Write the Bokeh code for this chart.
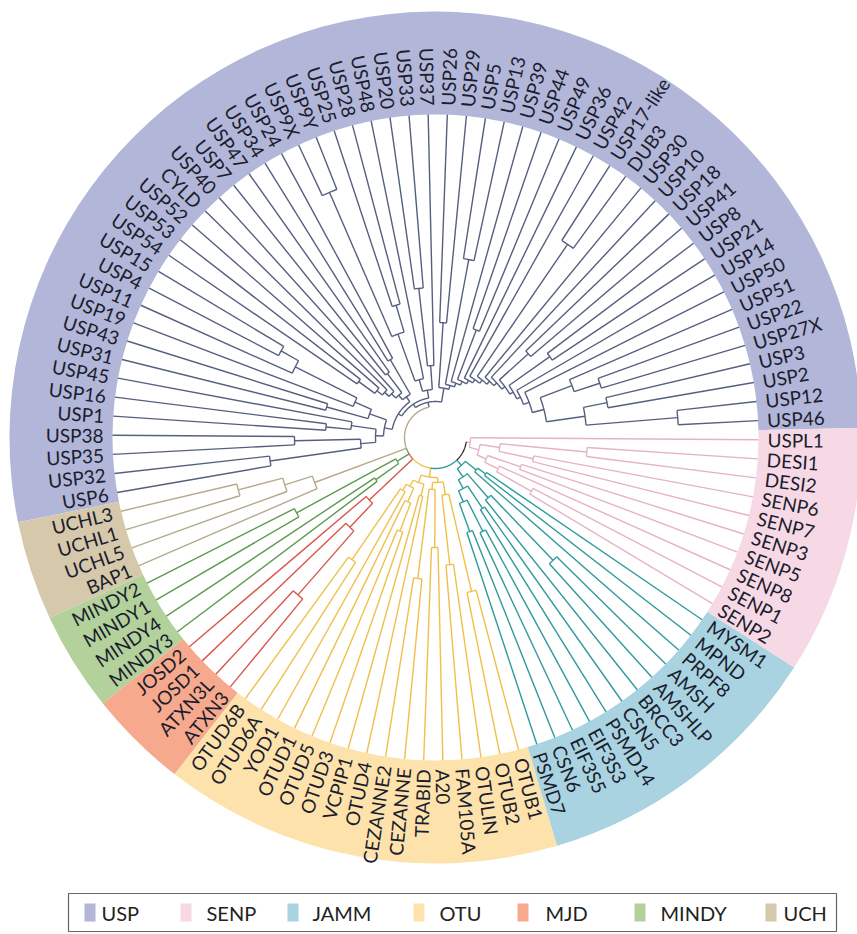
import math
from bokeh.plotting import figure
from bokeh.models import Range1d
from bokeh.embed import file_html
from bokeh.resources import INLINE
from bokeh.core.properties import value

# ---------------- data ----------------
usp_leaves = ["USP46", "USP12", "USP2", "USP3", "USP27X", "USP22", "USP51", "USP50", "USP14",
              "USP21", "USP8", "USP41", "USP18", "USP10", "USP30", "DUB3", "USP17-like", "USP42",
              "USP36", "USP49", "USP44", "USP39", "USP13", "USP5", "USP29", "USP26", "USP37",
              "USP33", "USP20", "USP48", "USP28", "USP25", "USP9Y", "USP9X", "USP24", "USP34",
              "USP47", "USP7", "USP40", "CYLD", "USP52", "USP53", "USP54", "USP15", "USP4",
              "USP11", "USP19", "USP43", "USP31", "USP45", "USP16", "USP1", "USP38", "USP35",
              "USP32", "USP6"]
uch_leaves = ["UCHL3", "UCHL1", "UCHL5", "BAP1"]
mindy_leaves = ["MINDY2", "MINDY1", "MINDY4", "MINDY3"]
mjd_leaves = ["JOSD2", "JOSD1", "ATXN3L", "ATXN3"]
otu_leaves = ["OTUD6B", "OTUD6A", "YOD1", "OTUD1", "OTUD5", "OTUD3", "VCPIP1", "OTUD4",
              "CEZANNE2", "CEZANNE", "TRABID", "A20", "FAM105A", "OTULIN", "OTUB2", "OTUB1"]
jamm_leaves = ["PSMD7", "CSN6", "EIF3S5", "EIF3S3", "PSMD14", "CSN5", "BRCC3", "AMSHLP",
               "AMSH", "PRPF8", "MPND", "MYSM1"]
senp_leaves = ["SENP2", "SENP1", "SENP8", "SENP5", "SENP3", "SENP7", "SENP6", "DESI2",
               "DESI1", "USPL1"]

families = ["USP", "UCH", "MINDY", "MJD", "OTU", "JAMM", "SENP"]
family_leaves = [usp_leaves, uch_leaves, mindy_leaves, mjd_leaves, otu_leaves, jamm_leaves, senp_leaves]
legend_order = ["USP", "SENP", "JAMM", "OTU", "MJD", "MINDY", "UCH"]

band_colors = {"USP": "#b2b6d8", "SENP": "#f6d9e4", "JAMM": "#a9d3e0", "OTU": "#fde3ab",
               "MJD": "#f6a98c", "MINDY": "#b3d19b", "UCH": "#d6c9ab"}
line_colors = {"USP": "#55607f", "SENP": "#e6b3c6", "JAMM": "#2f9a9c", "OTU": "#f0c04c",
               "MJD": "#d9574a", "MINDY": "#5c9a4d", "UCH": "#b6aa8e"}


# tree: [node_depth, child, child, ...]; leaves are names
def N(depth, *children):
    return [depth] + list(children)


def comb(base, steps):
    t = base
    for d, sub in steps:
        t = N(d, t, sub)
    return t


usp_right = comb(N(112, N(151, N(243, "USP46", "USP12"), N(175, "USP2", "USP3")),
                   N(146, N(173, "USP27X", "USP22"), "USP51")),
                 [(100, "USP50"), (94, "USP14"), (90, N(140, "USP21", "USP8")),
                  (86, N(125, "USP41", "USP18")), (82, "USP10"), (78, "USP30"),
                  (74, N(234, "DUB3", "USP17-like")), (70, "USP42"), (66, "USP36"),
                  (62, N(115, "USP49", "USP44")), (58, "USP39"), (54, N(181, "USP13", "USP5")),
                  (50, N(115, "USP29", "USP26"))])
usp_g1 = N(48, N(72, "USP37", N(150, "USP33", "USP20")),
           N(60, "USP48", N(110, N(138, "USP28", "USP25"), N(267, "USP9Y", "USP9X"))))
usp_g2 = N(50, N(90, "USP24", "USP34"),
           N(56, N(80, "USP47", "USP7"),
             N(62, "USP40", N(68, "CYLD", N(75, "USP52", N(95, "USP53", "USP54"))))))
usp_g3 = N(52, N(70, N(88, N(157, N(177, "USP15", "USP4"), "USP11"), "USP19"),
                 N(113, "USP43", "USP31")),
           N(60, N(85, "USP45", N(110, "USP16", "USP1")),
             N(75, N(141, "USP38", "USP35"), N(167, "USP32", "USP6"))))
usp_tree = N(36, usp_right, N(40, usp_g1, N(44, usp_g2, usp_g3)))
uch_tree = N(129, N(158, N(204, "UCHL3", "UCHL1"), "UCHL5"), "BAP1")
mindy_tree = N(45, N(158, "MINDY2", "MINDY1"), N(73, "MINDY4", "MINDY3"))
mjd_tree = N(91, "JOSD2", N(124, "JOSD1", N(209, "ATXN3L", "ATXN3")))
otu_tree = N(40,
             N(48, N(55, N(62, N(148, "OTUD6B", "OTUD6A"), "YOD1"),
                     N(70, "OTUD1", N(100, "OTUD5", "OTUD3"))),
               N(60, "VCPIP1", "OTUD4")),
             N(45, N(52, N(142, "CEZANNE2", "CEZANNE"), N(110, "TRABID", "A20")),
               N(58, N(128, "FAM105A", "OTULIN"), N(158, "OTUB2", "OTUB1"))))
jamm_tree = N(38,
              N(48, N(58, N(70, N(100, "PSMD7", "CSN6"), N(105, "EIF3S5", "EIF3S3")),
                      N(85, "PSMD14", "CSN5")),
                N(80, "BRCC3", N(170, "AMSHLP", "AMSH"))),
              N(52, "PRPF8", N(62, "MPND", "MYSM1")))
senp_tree = N(35,
              N(45, N(55, N(70, N(110, "SENP2", "SENP1"), "SENP8"), N(90, "SENP5", "SENP3")),
                N(65, N(100, "SENP7", "SENP6"), N(152, "DESI2", "DESI1"))),
              "USPL1")
root_depth = 31
family_trees = [usp_tree, uch_tree, mindy_tree, mjd_tree, otu_tree, jamm_tree, senp_tree]

# ---------------- layout ----------------
W, H = 857, 934
CX, CY = 435, H - 437
R_TIP = 323
R_LABEL = 332
R_OUT = 426
THETA0 = 3.0

leaves = [lf for fl in family_leaves for lf in fl]
n_leaves = len(leaves)
step = 360.0 / n_leaves
leaf_angle = {lf: THETA0 + i * step for i, lf in enumerate(leaves)}

p = figure(width=W, height=H, x_range=Range1d(0, W), y_range=Range1d(0, H),
           output_backend="svg", toolbar_location=None, x_axis_type=None, y_axis_type=None,
           min_border=0, outline_line_color=None, background_fill_color="white")
p.grid.visible = False

# colored bands
starts, ends, cols = [], [], []
for fam, fl in zip(families, family_leaves):
    a0 = leaf_angle[fl[0]] - step / 2
    a1 = leaf_angle[fl[-1]] + step / 2
    starts.append(math.radians(a0))
    ends.append(math.radians(a1))
    cols.append(band_colors[fam])
p.annular_wedge(x=[CX] * 7, y=[CY] * 7, inner_radius=R_TIP, outer_radius=R_OUT,
                start_angle=starts, end_angle=ends, fill_color=cols, line_color=None)

xs, ys, lc = [], [], []


def pol(r, a):
    t = math.radians(a)
    return CX + r * math.cos(t), CY + r * math.sin(t)


def add_radial(r0, r1, a, color):
    x0, y0 = pol(r0, a)
    x1, y1 = pol(r1, a)
    xs.append([x0, x1])
    ys.append([y0, y1])
    lc.append(color)


def add_arc(r, a0, a1, color):
    n = max(2, int(abs(a1 - a0) / 0.5) + 2)
    px, py = [], []
    for i in range(n):
        x, y = pol(r, a0 + (a1 - a0) * i / (n - 1))
        px.append(x)
        py.append(y)
    xs.append(px)
    ys.append(py)
    lc.append(color)


def layout(node, color):
    if isinstance(node, str):
        return leaf_angle[node], R_TIP
    r = node[0]
    kids = [layout(c, color) for c in node[1:]]
    angs = [k[0] for k in kids]
    for a, rr in kids:
        add_radial(r, rr, a, color)
    add_arc(r, min(angs), max(angs), color)
    return (min(angs) + max(angs)) / 2, r


root_kids = []
for fam, tree in zip(families, family_trees):
    a, r = layout(tree, line_colors[fam])
    add_radial(root_depth, r, a, line_colors[fam])
    root_kids.append((a, fam))
root_kids.sort()
for (a0, f0), (a1, f1) in zip(root_kids[:-1], root_kids[1:]):
    add_arc(root_depth, a0, a1, line_colors[f1] if f1 != "SENP" else "#333333")

p.multi_line(xs=xs, ys=ys, line_color=lc, line_width=1.4)

# labels
lx, ly, lt, la = [], [], [], []
rx, ry, rt, ra = [], [], [], []
for lf in leaves:
    a = leaf_angle[lf]
    x, y = pol(R_LABEL, a)
    if math.cos(math.radians(a)) >= 0:
        lx.append(x); ly.append(y); lt.append(lf); la.append(math.radians(a))
    else:
        rx.append(x); ry.append(y); rt.append(lf); ra.append(math.radians(a + 180))
common = dict(text_font=value("Lato"), text_font_size="19px", text_color="#1b1d2e",
              text_baseline="middle")
p.text(x=lx, y=ly, text=lt, angle=la, text_align="left", **common)
p.text(x=rx, y=ry, text=rt, angle=ra, text_align="right", **common)

# legend
leg_left, leg_right, leg_top, leg_bottom = 68, 836, H - 893, H - 931
p.quad(left=[leg_left], right=[leg_right], top=[leg_top], bottom=[leg_bottom],
       fill_color=None, line_color="#666666", line_width=1.2)
sq_x = [84, 180, 287, 413, 517, 634, 765]
tx_x = [101, 206, 312, 439, 545, 660, 783]
ymid = H - 912
p.quad(left=[x for x in sq_x], right=[x + 11 for x in sq_x], top=[ymid + 9] * 7,
       bottom=[ymid - 9] * 7, fill_color=[band_colors[f] for f in legend_order], line_color=None)
p.text(x=tx_x, y=[ymid] * 7, text=legend_order, text_font=value("Lato"),
       text_font_size="20px", text_color="#222222", text_baseline="middle", text_align="left")

open("out.html", "w").write(file_html(p, INLINE))
